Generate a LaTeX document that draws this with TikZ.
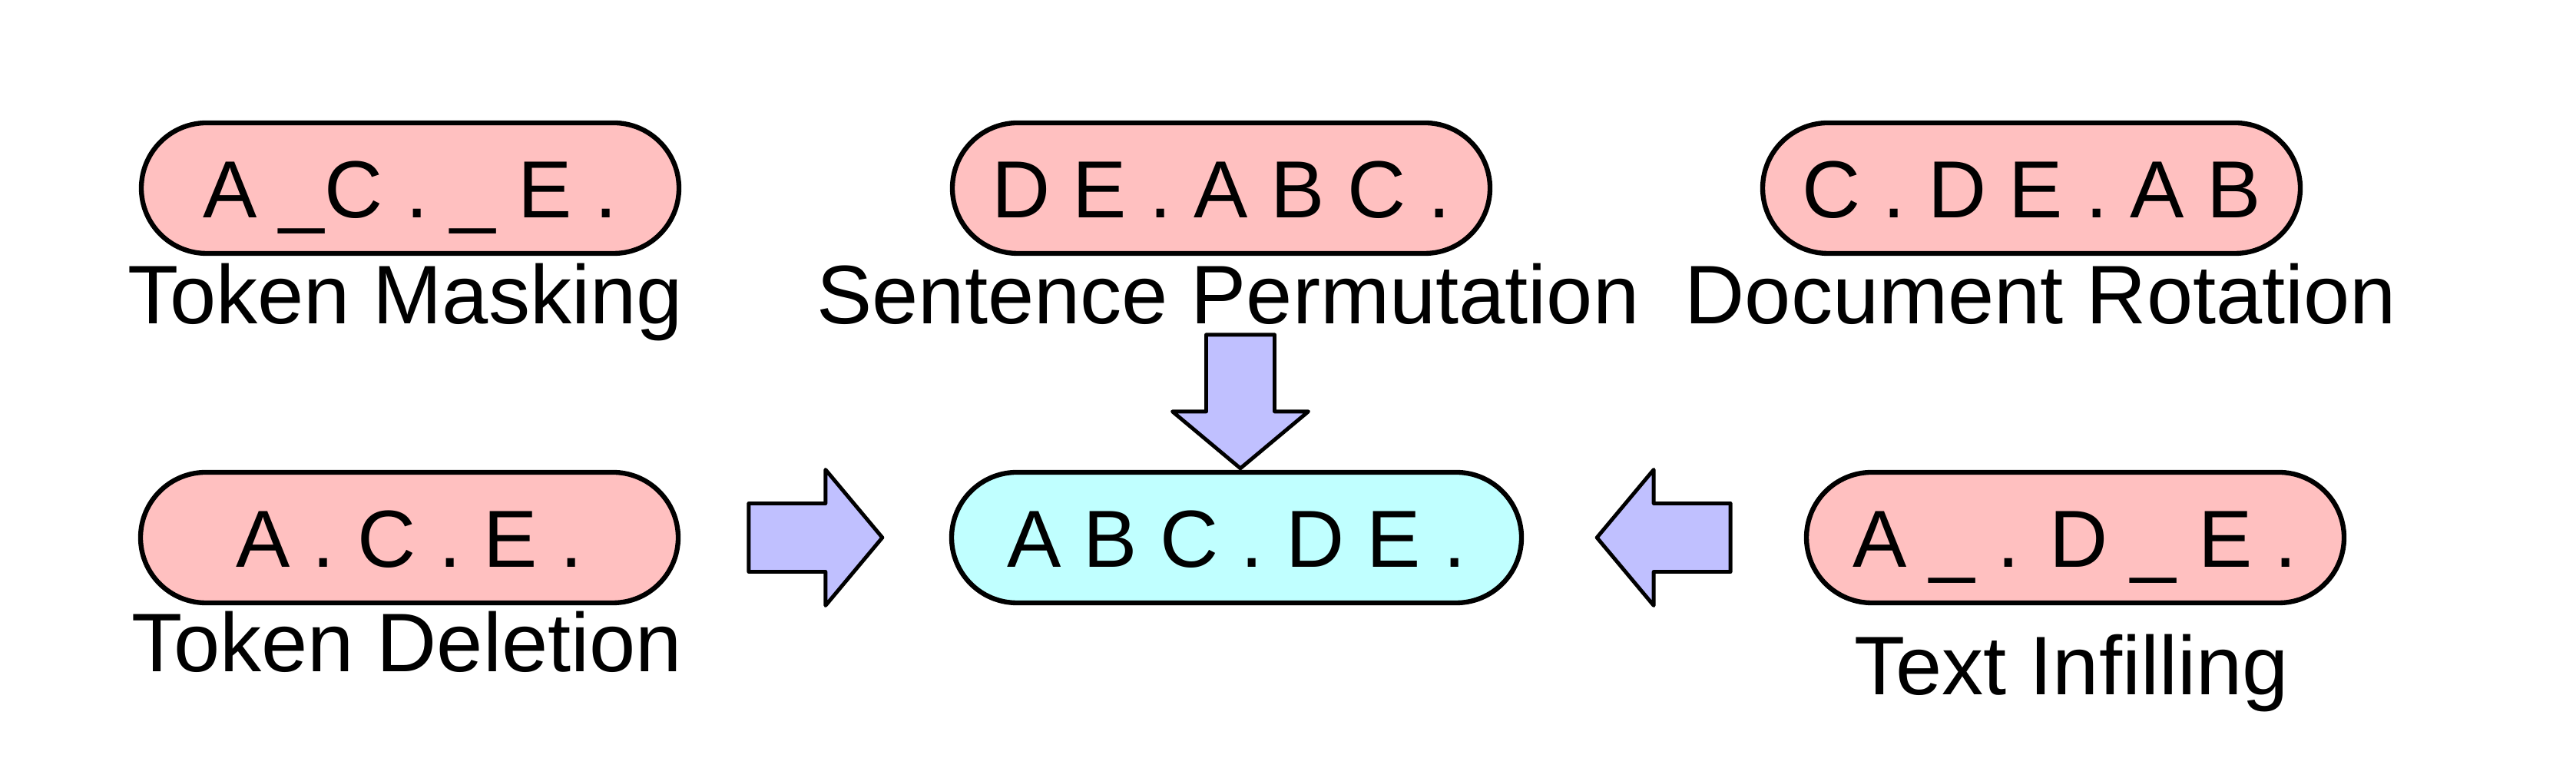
\documentclass[tikz,border=0pt]{standalone}
\usepackage{fontspec}
\setmainfont{Liberation Sans}
\usetikzlibrary{calc}

\definecolor{noisepink}{RGB}{255,192,192}
\definecolor{cleancyan}{RGB}{192,255,255}
\definecolor{arrowblue}{RGB}{192,192,255}

\tikzset{
    seqbox/.style={draw, line width=1.8pt, rounded corners=0.85cm,
        minimum width=7cm, minimum height=1.7cm, inner sep=0pt,
        text height=0.77cm, text depth=0pt, font=\fontsize{30}{36}\selectfont},
    tasklabel/.style={anchor=base, inner sep=0pt, font=\fontsize{30.8}{36}\selectfont},
    blockarrow/.pic={
        \draw[fill=arrowblue, line width=1.4pt, line join=round]
            (0,0) -- (-0.74,0.885) -- (-0.74,0.445) -- (-1.74,0.445)
            -- (-1.74,-0.445) -- (-0.74,-0.445) -- (-0.74,-0.885) -- cycle;
    }
}

\begin{document}
\begin{tikzpicture}
    \useasboundingbox (0,0) rectangle (33.54,10);

    % Noised inputs, top row
    \node[seqbox, fill=noisepink] (mask) at (5.34,7.55) {A \_C . \_ E .};
    \node[seqbox, fill=noisepink] (perm) at (15.90,7.55) {D E . A B C .};
    \node[seqbox, fill=noisepink] (rot) at (26.45,7.55) {C . D E . A B};
    \node[tasklabel] (masklab) at (5.28,5.78) {Token Masking};
    \node[tasklabel] (permlab) at (15.99,5.78) {Sentence Permutation};
    \node[tasklabel] (rotlab) at (26.57,5.78) {Document Rotation};

    % Bottom row, original text in the middle
    \node[seqbox, fill=noisepink] (del) at (5.33,3.0) {A . C . E .};
    \node[seqbox, fill=cleancyan, minimum width=7.42cm] (orig) at (16.10,3.0) {A B C . D E .};
    \node[seqbox, fill=noisepink] (infill) at (27.02,3.0) {A \_ . D \_ E .};
    \node[tasklabel] (dellab) at (5.30,1.25) {Token Deletion};
    \node[tasklabel] (infilllab) at (26.97,0.95) {Text Infilling};

    % Block arrows into the original
    \pic at ($(orig.west)+(-0.87,0)$) {blockarrow};
    \pic[rotate=180] at ($(orig.east)+(0.95,0)$) {blockarrow};
    \pic[rotate=-90] at ($(orig.north)+(0.05,0.02)$) {blockarrow};
\end{tikzpicture}
\end{document}
